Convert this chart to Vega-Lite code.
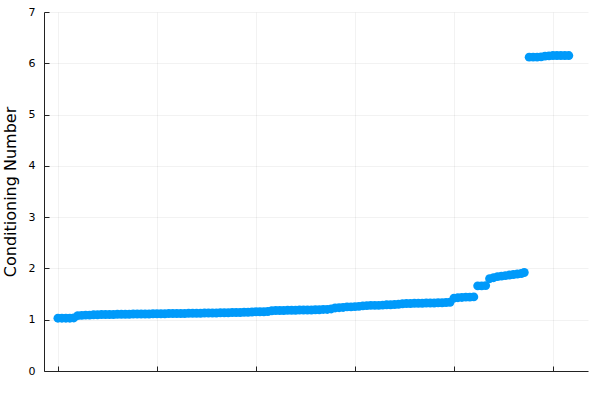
{
  "$schema": "https://vega.github.io/schema/vega-lite/v6.json",
  "width": 544,
  "height": 359,
  "autosize": {"type": "none"},
  "padding": {"left": 44, "top": 12, "right": 12, "bottom": 29},
  "background": "white",
  "config": {
    "view": {"stroke": null},
    "font": "DejaVu Sans",
    "axis": {"domainColor": "#222222", "domainWidth": 1, "tickColor": "#222222", "gridColor": "#000000", "gridOpacity": 0.1, "gridWidth": 0.5, "labelColor": "#000000", "labelFontSize": 11, "titleColor": "#000000", "titleFontWeight": "normal", "tickSize": -5}
  },
  "data": {"values": [
    {"i":0,"c":1.03},{"i":4,"c":1.03},{"i":8,"c":1.03},{"i":12,"c":1.03},{"i":16,"c":1.035},
    {"i":20,"c":1.08},{"i":24,"c":1.085},{"i":28,"c":1.09},{"i":32,"c":1.09},{"i":36,"c":1.095},{"i":40,"c":1.095},{"i":44,"c":1.1},{"i":48,"c":1.1},{"i":52,"c":1.1},{"i":56,"c":1.1},{"i":60,"c":1.105},{"i":64,"c":1.105},{"i":68,"c":1.105},{"i":72,"c":1.105},{"i":76,"c":1.11},{"i":80,"c":1.11},{"i":84,"c":1.11},{"i":88,"c":1.11},{"i":92,"c":1.11},{"i":96,"c":1.115},{"i":100,"c":1.115},{"i":104,"c":1.115},{"i":108,"c":1.115},{"i":112,"c":1.12},{"i":116,"c":1.12},{"i":120,"c":1.12},{"i":124,"c":1.12},{"i":128,"c":1.12},{"i":132,"c":1.125},{"i":136,"c":1.125},{"i":140,"c":1.125},{"i":144,"c":1.125},{"i":148,"c":1.13},{"i":152,"c":1.13},{"i":156,"c":1.13},{"i":160,"c":1.13},{"i":164,"c":1.135},{"i":168,"c":1.135},{"i":172,"c":1.135},{"i":176,"c":1.14},{"i":180,"c":1.14},{"i":184,"c":1.14},{"i":188,"c":1.145},{"i":192,"c":1.145},{"i":196,"c":1.15},{"i":200,"c":1.155},{"i":204,"c":1.155},{"i":208,"c":1.155},{"i":212,"c":1.16},{"i":216,"c":1.175},{"i":220,"c":1.18},{"i":224,"c":1.18},{"i":228,"c":1.18},{"i":232,"c":1.185},{"i":236,"c":1.185},{"i":240,"c":1.185},{"i":244,"c":1.19},{"i":248,"c":1.19},{"i":252,"c":1.19},{"i":256,"c":1.19},{"i":260,"c":1.195},{"i":264,"c":1.195},{"i":268,"c":1.2},{"i":272,"c":1.2},{"i":276,"c":1.21},{"i":280,"c":1.23},{"i":284,"c":1.235},{"i":288,"c":1.24},{"i":292,"c":1.25},{"i":296,"c":1.25},{"i":300,"c":1.255},{"i":304,"c":1.26},{"i":308,"c":1.27},{"i":312,"c":1.275},{"i":316,"c":1.28},{"i":320,"c":1.28},{"i":324,"c":1.28},{"i":328,"c":1.285},{"i":332,"c":1.29},{"i":336,"c":1.29},{"i":340,"c":1.295},{"i":344,"c":1.3},{"i":348,"c":1.31},{"i":352,"c":1.315},{"i":356,"c":1.315},{"i":360,"c":1.32},{"i":364,"c":1.32},{"i":368,"c":1.32},{"i":372,"c":1.325},{"i":376,"c":1.325},{"i":380,"c":1.325},{"i":384,"c":1.33},{"i":388,"c":1.33},{"i":392,"c":1.335},{"i":396,"c":1.34},
    {"i":400,"c":1.42},{"i":404,"c":1.43},{"i":408,"c":1.435},{"i":412,"c":1.44},{"i":416,"c":1.44},{"i":420,"c":1.445},
    {"i":424,"c":1.66},{"i":428,"c":1.66},{"i":432,"c":1.665},
    {"i":436,"c":1.8},{"i":440,"c":1.82},{"i":444,"c":1.84},{"i":448,"c":1.85},{"i":452,"c":1.86},{"i":456,"c":1.87},{"i":460,"c":1.88},{"i":464,"c":1.89},{"i":468,"c":1.9},{"i":471,"c":1.92},
    {"i":476,"c":6.12},{"i":480,"c":6.12},{"i":484,"c":6.12},{"i":488,"c":6.125},{"i":492,"c":6.14},{"i":496,"c":6.145},{"i":500,"c":6.15},{"i":504,"c":6.15},{"i":508,"c":6.15},{"i":512,"c":6.15},{"i":516,"c":6.15}
  ]},
  "mark": {"type": "circle", "size": 80, "color": "#009AFA", "opacity": 1},
  "encoding": {
    "x": {"field": "i", "type": "quantitative", "scale": {"domain": [-14.1, 535.4], "nice": false, "zero": false},
      "axis": {"title": null, "values": [0, 100, 200, 300, 400, 500], "labels": false, "domain": true}},
    "y": {"field": "c", "type": "quantitative", "scale": {"domain": [0, 7], "nice": false},
      "axis": {"title": "Conditioning Number", "titleFontSize": 16, "titlePadding": 10, "values": [0,1,2,3,4,5,6,7], "labelPadding": 14}}
  }
}
